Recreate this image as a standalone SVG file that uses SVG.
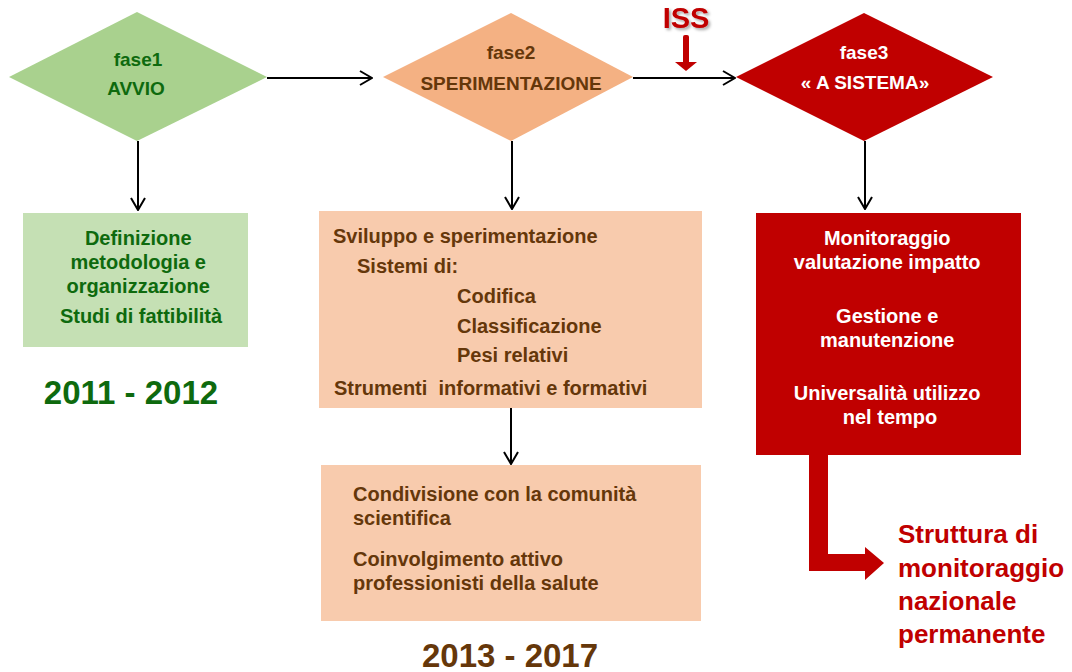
<svg xmlns="http://www.w3.org/2000/svg" width="1072" height="672" viewBox="0 0 1072 672">
  <style>
    text { font-family: "Liberation Sans", Arial, sans-serif; font-weight: bold; }
    .dia { font-size: 19px; }
    .box { font-size: 20px; }
    .year { font-size: 33px; }
    .green { fill: #0E6A0E; }
    .brown { fill: #65370A; }
    .white { fill: #FFFFFF; }
    .red { fill: #C00000; }
    .conn { stroke: #000000; stroke-width: 2; fill: none; }
  </style>
  <defs>
    <marker id="open" markerUnits="userSpaceOnUse" viewBox="0 0 14 16" refX="13" refY="8" markerWidth="14" markerHeight="16" orient="auto">
      <path d="M1,1 L13,8 L1,15" fill="none" stroke="#000000" stroke-width="2"/>
    </marker>
    <filter id="shadow" x="-20%" y="-20%" width="140%" height="160%">
      <feDropShadow dx="2" dy="2" stdDeviation="1.5" flood-color="#000000" flood-opacity="0.35"/>
    </filter>
  </defs>
  <rect width="1072" height="672" fill="#FFFFFF"/>

  <g id="connectors">
    <line class="conn" x1="267" y1="78" x2="372" y2="78" marker-end="url(#open)"/>
    <line class="conn" x1="633" y1="78" x2="735" y2="78" marker-end="url(#open)"/>
    <line class="conn" x1="138" y1="141" x2="138" y2="210" marker-end="url(#open)"/>
    <line class="conn" x1="512" y1="141" x2="512" y2="209" marker-end="url(#open)"/>
    <line class="conn" x1="865" y1="141" x2="865" y2="209" marker-end="url(#open)"/>
    <line class="conn" x1="511" y1="408" x2="511" y2="464" marker-end="url(#open)"/>
    <polygon points="809,455 828,455 828,554 865,554 865,547 884,563 865,580 865,571 809,571" fill="#C00000"/>
    <g id="iss-arrow" fill="#C00000">
      <rect x="683" y="35" width="6" height="29" rx="2"/>
      <polygon points="675,62 697,62 686,71"/>
    </g>
  </g>

  <g id="fase1">
    <polygon points="9,77 137,12 267,77 137,141" fill="#A9D18E"/>
    <text class="dia green" x="138" y="66" text-anchor="middle">fase1</text>
    <text class="dia green" x="136" y="95" text-anchor="middle">AVVIO</text>
  </g>

  <g id="fase2">
    <polygon points="383,77 511,13 633,77 511,141" fill="#F4B183"/>
    <text class="dia brown" x="511" y="59" text-anchor="middle">fase2</text>
    <text class="dia brown" x="511" y="90" text-anchor="middle">SPERIMENTAZIONE</text>
  </g>

  <g id="fase3">
    <polygon points="736,77 864,13 993,77 864,141" fill="#C00000"/>
    <text class="dia white" x="864" y="59" text-anchor="middle">fase3</text>
    <text class="dia white" x="865" y="89" text-anchor="middle">« A SISTEMA»</text>
  </g>

  <g id="iss">
    <text class="red" x="686" y="28" text-anchor="middle" font-size="29" filter="url(#shadow)">ISS</text>
  </g>

  <g id="box1">
    <rect x="23" y="213" width="225" height="134" fill="#C5E0B4"/>
    <text class="box green" text-anchor="middle">
      <tspan x="141" y="245">Definizione</tspan>
      <tspan x="141" y="269">metodologia e</tspan>
      <tspan x="141" y="293">organizzazione</tspan>
      <tspan x="141" y="323">Studi di fattibilità</tspan>
    </text>
  </g>

  <g id="year1">
    <text class="year green" x="131" y="404" text-anchor="middle">2011 - 2012</text>
  </g>

  <g id="box2">
    <rect x="319" y="211" width="383" height="197" fill="#F8CBAD"/>
    <text class="box brown">
      <tspan x="333" y="243">Sviluppo e sperimentazione</tspan>
      <tspan x="357" y="273">Sistemi di:</tspan>
      <tspan x="457" y="303">Codifica</tspan>
      <tspan x="457" y="333">Classificazione</tspan>
      <tspan x="457" y="362">Pesi relativi</tspan>
      <tspan x="334" y="395" xml:space="preserve">Strumenti  informativi e formativi</tspan>
    </text>
  </g>

  <g id="box3">
    <rect x="321" y="465" width="380" height="156" fill="#F8CBAD"/>
    <text class="box brown">
      <tspan x="353" y="501">Condivisione con la comunità</tspan>
      <tspan x="353" y="525">scientifica</tspan>
      <tspan x="353" y="566">Coinvolgimento attivo</tspan>
      <tspan x="353" y="590">professionisti della salute</tspan>
    </text>
  </g>

  <g id="year2">
    <text class="year brown" x="510" y="667" text-anchor="middle">2013 - 2017</text>
  </g>

  <g id="box4">
    <rect x="756" y="213" width="265" height="242" fill="#C00000"/>
    <text class="box white" text-anchor="middle">
      <tspan x="890" y="245">Monitoraggio</tspan>
      <tspan x="890" y="269">valutazione impatto</tspan>
      <tspan x="890" y="323">Gestione e</tspan>
      <tspan x="890" y="347">manutenzione</tspan>
      <tspan x="890" y="400">Universalità utilizzo</tspan>
      <tspan x="890" y="424">nel tempo</tspan>
    </text>
  </g>

  <g id="struttura">
    <text class="red" font-size="26">
      <tspan x="898" y="543">Struttura di</tspan>
      <tspan x="898" y="577">monitoraggio</tspan>
      <tspan x="898" y="610">nazionale</tspan>
      <tspan x="898" y="643">permanente</tspan>
    </text>
  </g>
</svg>
